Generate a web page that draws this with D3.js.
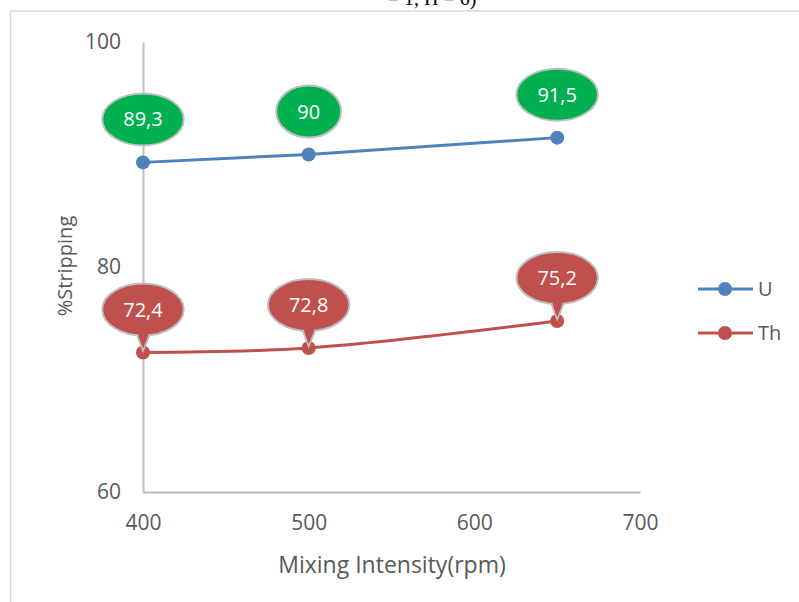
<!DOCTYPE html>
<html>
<head>
<meta charset="utf-8">
<script src="https://cdn.jsdelivr.net/npm/d3@7"></script>
<style>
  html, body { margin: 0; padding: 0; background: #fff; }
  svg { display: block; }
  text { font-family: "Open Sans", "Noto Sans", sans-serif; }
</style>
</head>
<body>
<svg id="chart" width="799" height="602"></svg>
<script>
// Stripping efficiency versus mixing intensity
const rpm = [400, 500, 650];
const seriesNames = ["U", "Th"];
const uValues = [89.3, 90, 91.5];
const thValues = [72.4, 72.8, 75.2];
const xTicks = [400, 500, 600, 700];
const yTicks = [60, 80, 100];

const colors = { U: "#4F81BD", Th: "#C0504D" };
const calloutFill = { U: "#00B050", Th: "#C0504D" };

const svg = d3.select("#chart");

// frame around the figure
svg.append("line").attr("x1", 10).attr("x2", 799).attr("y1", 11).attr("y2", 11)
  .attr("stroke", "#d9d9d9").attr("stroke-width", 1.5);
svg.append("line").attr("x1", 10.5).attr("x2", 10.5).attr("y1", 11).attr("y2", 602)
  .attr("stroke", "#d9d9d9").attr("stroke-width", 1.5);

// tail end of the caption above the frame
svg.append("text").attr("x", 432).attr("y", 5)
  .attr("text-anchor", "middle")
  .style("font-family", "'Liberation Serif', 'DejaVu Serif', serif")
  .style("font-size", "20px").attr("fill", "#000")
  .text("= 1, H = 6)");

const x = d3.scaleLinear().domain([400, 700]).range([143, 640]);
const y = d3.scaleLinear().domain([60, 100]).range([492, 42]);

// axes
const axisColor = "#bfbfbf";
const xAxis = svg.append("g").attr("transform", `translate(0,${y(60)})`)
  .call(d3.axisBottom(x).tickValues(xTicks).tickSize(0).tickPadding(22).tickFormat(d3.format("d")));
const yAxis = svg.append("g").attr("transform", `translate(${x(400)},0)`)
  .call(d3.axisLeft(y).tickValues(yTicks).tickSize(0).tickPadding(22).tickFormat(d3.format("d")));
[xAxis, yAxis].forEach(g => {
  g.select(".domain").attr("stroke", axisColor).attr("stroke-width", 2);
  g.selectAll("text").attr("fill", "#595959").style("font-size", "21px")
    .style("font-family", "'Open Sans', sans-serif");
});
xAxis.selectAll("text").attr("dy", "0.35em").attr("y", 31);

svg.append("text").attr("x", 392).attr("y", 565).attr("dy", "0.35em").attr("text-anchor", "middle")
  .attr("fill", "#595959").style("font-size", "23px").text("Mixing Intensity(rpm)");
svg.append("text").attr("transform", "translate(65,266) rotate(-90)")
  .attr("text-anchor", "middle").attr("dy", "0.35em").attr("fill", "#595959").style("font-size", "20px")
  .text("%Stripping");

const series = [
  { name: "U", values: uValues, curve: d3.curveLinear, tail: false },
  { name: "Th", values: thValues, curve: d3.curveCatmullRom.alpha(0.5), tail: true }
];

const fmt = v => String(v).replace(".", ",");

series.forEach(s => {
  const pts = rpm.map((r, i) => [x(r), y(s.values[i])]);
  svg.append("path").attr("d", d3.line().curve(s.curve)(pts))
    .attr("fill", "none").attr("stroke", colors[s.name]).attr("stroke-width", 3);
  svg.selectAll(null).data(pts).enter().append("circle")
    .attr("cx", d => d[0]).attr("cy", d => d[1]).attr("r", 7)
    .attr("fill", colors[s.name]);
});

// value callouts
series.forEach(s => {
  rpm.forEach((r, i) => {
    const px = x(r), py = y(s.values[i]);
    const cx = px, cy = py - 43;
    const g = svg.append("g");
    const label = fmt(s.values[i]);
    const t = g.append("text").attr("x", cx).attr("y", cy)
      .attr("text-anchor", "middle").attr("dy", "0.35em")
      .attr("fill", "#fff").style("font-size", "20px").text(label);
    const w = t.node().getComputedTextLength();
    const rx = w / 2 + 21, ry = 26;
    const fill = calloutFill[s.name];
    const wedge = [[cx - 8, cy + ry - 6], [px, py - 2], [cx + 9, cy + ry - 6]];
    if (s.tail) {
      g.insert("path", "text").attr("d", d3.line()(wedge) + "Z")
        .attr("fill", fill).attr("stroke", "#bfbfbf").attr("stroke-width", 2);
    }
    g.insert("ellipse", "text").attr("cx", cx).attr("cy", cy).attr("rx", rx).attr("ry", ry)
      .attr("fill", fill).attr("stroke", "#bfbfbf").attr("stroke-width", 2);
    if (s.tail) {
      const inner = [[cx - 7, cy + ry - 8], [px, py - 4], [cx + 8, cy + ry - 8]];
      g.insert("path", "text").attr("d", d3.line()(inner) + "Z").attr("fill", fill);
    }
  });
});

// legend
seriesNames.forEach((name, i) => {
  const ly = 289 + i * 44;
  const g = svg.append("g");
  g.append("line").attr("x1", 698).attr("x2", 753).attr("y1", ly).attr("y2", ly)
    .attr("stroke", colors[name]).attr("stroke-width", 3);
  g.append("circle").attr("cx", 725).attr("cy", ly).attr("r", 7).attr("fill", colors[name]);
  g.append("text").attr("x", 758).attr("y", ly).attr("dy", "0.35em")
    .attr("fill", "#595959").style("font-size", "20px").text(name);
});
</script>
</body>
</html>
